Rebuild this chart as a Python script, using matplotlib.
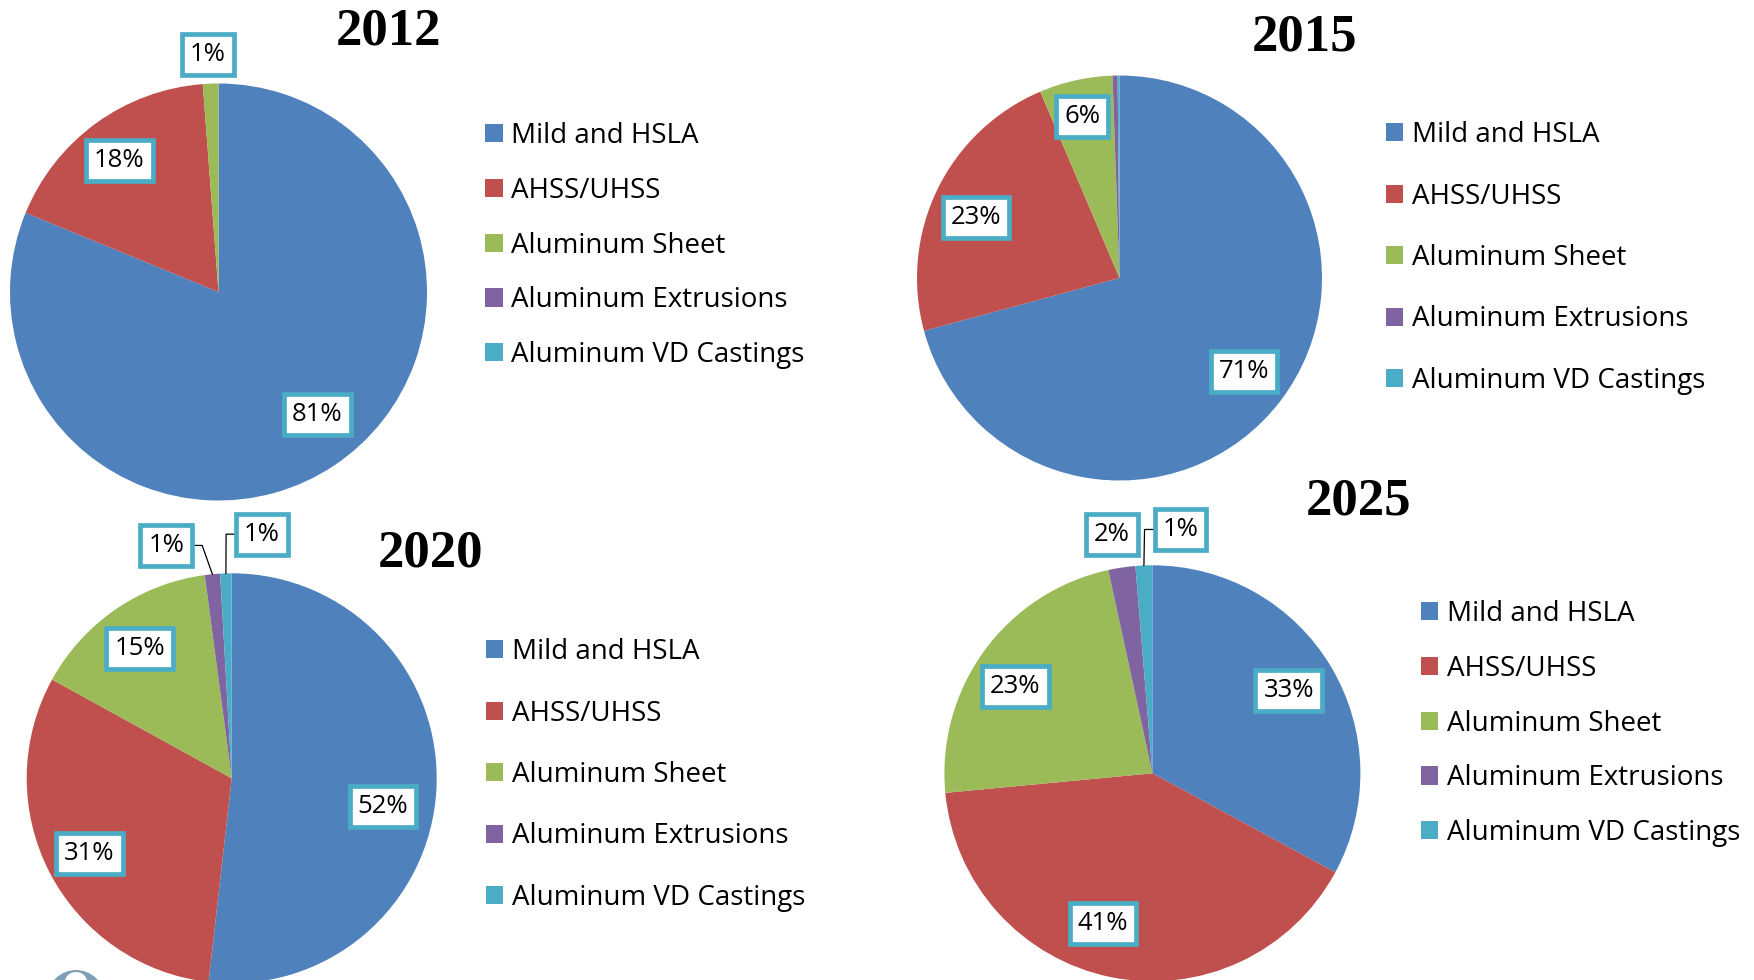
import matplotlib
matplotlib.use('Agg')
import matplotlib.pyplot as plt
from matplotlib.patches import Circle
import numpy as np

plt.rcParams['font.family'] = ['Open Sans', 'DejaVu Sans']

W, H = 1754, 980

# data
categories = ['Mild and HSLA', 'AHSS/UHSS', 'Aluminum Sheet',
              'Aluminum Extrusions', 'Aluminum VD Castings']
colors = ['#4F81BD', '#C0504D', '#9BBB59', '#8064A2', '#4BACC6']
years = ['2012', '2015', '2020', '2025']
share_2012 = [81.2, 17.6, 1.2, 0.0, 0.0]
share_2015 = [70.8, 22.8, 5.85, 0.4, 0.15]
share_2020 = [51.8, 31.2, 14.9, 1.2, 0.9]
share_2025 = [32.9, 40.6, 23.1, 2.1, 1.3]
shares = [share_2012, share_2015, share_2020, share_2025]

# layout, in pixels from the top left corner
pie_pos = [(218.5, 292, 208.5), (1119.5, 278, 202.5),
           (231.7, 778.3, 205), (1152.4, 773.3, 208)]
title_pos = [(389, 45), (1305, 50.3), (430, 566.7), (1358, 514.3)]
legend_pos = [(485, 245.5, 54.75), (1385.5, 258, 61.5),
              (485.5, 775, 61.5), (1420.6, 723.5, 54.75)]
# data label placement: (radius fraction, angle shift in degrees)
label_place = [
    [(0.756, 5), (0.79, 1), (1.14, 0.4), None, None],
    [(0.77, 0.4), (0.77, 3), (0.82, 0.4), None, None],
    [(0.75, -7.4), (0.785, 0.4), (0.775, 1), (1.18, 10.3), (1.2, -8.7)],
    [(0.767, 0.6), (0.76, -6.6), (0.78, 3.8), (1.165, 1.1), (1.18, -8.9)],
]
leaders = [set(), set(), {3, 4}, {4}]

fig = plt.figure(figsize=(W / 100, H / 100), dpi=100)
ax = fig.add_axes([0, 0, 1, 1])

pending = []
for i, year in enumerate(years):
    cx, cy, r = pie_pos[i]
    cy = H - cy
    wedges, _ = ax.pie(shares[i], colors=colors, startangle=90, counterclock=False,
                       center=(cx, cy), radius=r, wedgeprops=dict(linewidth=0))

    for j, w in enumerate(wedges):
        place = label_place[i][j]
        if place is None or round(shares[i][j]) < 1:
            continue
        dist, shift = place
        mid = (w.theta1 + w.theta2) / 2
        a = np.deg2rad(mid + shift)
        t = ax.text(cx + dist * r * np.cos(a), cy + dist * r * np.sin(a),
                    f'{round(shares[i][j])}%', ha='center', va='center', fontsize=18.5,
                    bbox=dict(boxstyle='square,pad=0.31', fc='white', ec='#4BACC6', lw=3.4),
                    zorder=5)
        if j in leaders[i]:
            m = np.deg2rad(mid)
            pending.append((t, cx + r * np.cos(m), cy + r * np.sin(m)))

    tx, ty = title_pos[i]
    ax.text(tx, H - ty, year, ha='center', va='baseline', fontsize=38, fontweight='bold',
            family=['Liberation Serif', 'DejaVu Serif'])

    lx, ly, pitch = legend_pos[i]
    fs = 20
    fig.legend(wedges, categories, loc='center left', bbox_to_anchor=(lx / W, 1 - ly / H),
               frameon=False, fontsize=fs, handlelength=0.63, handleheight=0.63,
               handletextpad=0.32, labelspacing=pitch / (fs * 100 / 72) - 1.01,
               borderpad=0, borderaxespad=0)

# bit of the logo peeking in at the bottom left
ax.add_patch(Circle((76, H - 999), 29, color='#7fa0b6', lw=0))
ax.add_patch(Circle((76, H - 983.6), 11.6, color='white', lw=0))

ax.set_xlim(0, W)
ax.set_ylim(0, H)
ax.set_aspect('auto')
ax.axis('off')

# leader lines need the drawn label boxes
fig.canvas.draw()
renderer = fig.canvas.get_renderer()
for t, px, py in pending:
    bb = t.get_bbox_patch().get_window_extent(renderer)
    by = (bb.y0 + bb.y1) / 2
    if px < (bb.x0 + bb.x1) / 2:
        ex, kx = bb.x0, bb.x0 - 10
    else:
        ex, kx = bb.x1, bb.x1 + 10
    ax.plot([ex, kx, px], [by, by, py], color='black', lw=0.9, zorder=4)

fig.savefig('out.png', dpi=100)
plt.close(fig)
